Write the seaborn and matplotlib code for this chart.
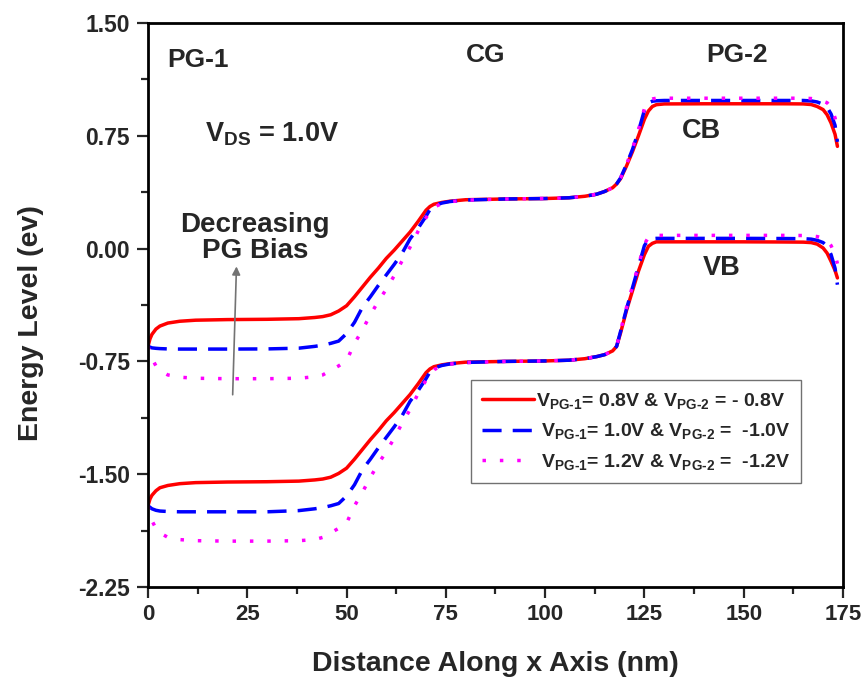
import matplotlib
matplotlib.use("Agg")
import matplotlib.pyplot as plt
from matplotlib.ticker import MultipleLocator
import seaborn as sns
import pandas as pd

# distance along x (nm), shared by all curves
distance = [0, 0.5, 1, 2, 3, 5, 8, 12, 20, 30,
            38, 42, 44, 46, 48, 50, 52, 54, 56, 58,
            60, 62, 64, 66, 68, 70, 71, 72, 74, 76,
            80, 90, 100, 106, 110, 113, 115, 117, 118, 119,
            120.5, 122, 123.5, 125, 126, 127, 128, 130, 140, 150,
            160, 165, 167, 168.5, 170, 171, 172, 173, 173.6]

cb_08 = [-0.65, -0.60, -0.57, -0.535, -0.515, -0.495, -0.483, -0.476, -0.472, -0.470,
         -0.466, -0.458, -0.452, -0.440, -0.415, -0.380, -0.320, -0.255, -0.190, -0.130,
         -0.065, -0.010, 0.050, 0.110, 0.180, 0.255, 0.280, 0.295, 0.307, 0.315,
         0.325, 0.330, 0.333, 0.338, 0.348, 0.362, 0.380, 0.405, 0.430, 0.465,
         0.550, 0.645, 0.750, 0.860, 0.915, 0.945, 0.957, 0.962, 0.963, 0.963,
         0.963, 0.962, 0.958, 0.945, 0.924, 0.890, 0.835, 0.760, 0.680]
cb_10 = [-0.65, -0.655, -0.66, -0.663, -0.665, -0.667, -0.668, -0.668, -0.668, -0.667,
         -0.662, -0.650, -0.642, -0.630, -0.615, -0.565, -0.490, -0.390, -0.320, -0.245,
         -0.175, -0.105, -0.030, 0.065, 0.135, 0.215, 0.260, 0.285, 0.303, 0.313,
         0.323, 0.330, 0.333, 0.338, 0.348, 0.362, 0.380, 0.405, 0.430, 0.470,
         0.560, 0.660, 0.780, 0.920, 0.970, 0.980, 0.983, 0.985, 0.985, 0.985,
         0.985, 0.985, 0.982, 0.975, 0.960, 0.940, 0.895, 0.820, 0.710]
cb_12 = [-0.65, -0.69, -0.73, -0.78, -0.81, -0.84, -0.855, -0.862, -0.865, -0.865,
         -0.862, -0.852, -0.840, -0.810, -0.780, -0.745, -0.630, -0.540, -0.440, -0.350,
         -0.270, -0.180, -0.080, 0.010, 0.115, 0.205, 0.245, 0.275, 0.300, 0.312,
         0.322, 0.330, 0.333, 0.338, 0.348, 0.362, 0.380, 0.405, 0.430, 0.470,
         0.560, 0.665, 0.790, 0.930, 0.985, 0.995, 1.000, 1.000, 1.000, 1.000,
         1.000, 1.000, 0.998, 0.990, 0.980, 0.970, 0.940, 0.870, 0.790]

vb_08 = [-1.71, -1.665, -1.64, -1.61, -1.59, -1.575, -1.563, -1.556, -1.552, -1.550,
         -1.546, -1.538, -1.532, -1.520, -1.495, -1.460, -1.400, -1.335, -1.270, -1.210,
         -1.145, -1.090, -1.030, -0.970, -0.900, -0.825, -0.800, -0.785, -0.773, -0.765,
         -0.755, -0.750, -0.747, -0.742, -0.732, -0.718, -0.705, -0.680, -0.650, -0.560,
         -0.410, -0.280, -0.150, -0.040, 0.015, 0.035, 0.045, 0.045, 0.045, 0.045,
         0.044, 0.043, 0.040, 0.030, 0.004, -0.030, -0.085, -0.145, -0.195]
vb_10 = [-1.71, -1.72, -1.73, -1.74, -1.745, -1.748, -1.75, -1.75, -1.75, -1.75,
         -1.742, -1.730, -1.722, -1.710, -1.695, -1.645, -1.570, -1.470, -1.400, -1.325,
         -1.255, -1.185, -1.110, -1.015, -0.945, -0.865, -0.820, -0.795, -0.777, -0.767,
         -0.757, -0.750, -0.747, -0.742, -0.732, -0.718, -0.705, -0.680, -0.650, -0.550,
         -0.400, -0.260, -0.120, 0.020, 0.060, 0.066, 0.068, 0.068, 0.068, 0.068,
         0.067, 0.066, 0.063, 0.055, 0.040, 0.015, -0.040, -0.130, -0.240]
vb_12 = [-1.71, -1.77, -1.81, -1.86, -1.89, -1.92, -1.935, -1.942, -1.945, -1.945,
         -1.942, -1.935, -1.920, -1.890, -1.860, -1.825, -1.710, -1.620, -1.520, -1.430,
         -1.350, -1.260, -1.160, -1.070, -0.965, -0.875, -0.835, -0.805, -0.780, -0.768,
         -0.758, -0.750, -0.747, -0.742, -0.732, -0.718, -0.705, -0.680, -0.650, -0.545,
         -0.390, -0.250, -0.110, 0.030, 0.075, 0.085, 0.088, 0.088, 0.088, 0.088,
         0.088, 0.087, 0.085, 0.080, 0.070, 0.050, 0.020, -0.040, -0.100]

labels = [r"$\mathrm{V_{PG\text{-}1}}$= 0.8V & $\mathrm{V_{PG\text{-}2}}$ = - 0.8V",
          r" $\mathrm{V_{PG\text{-}1}}$= 1.0V & $\mathrm{V_{PG\text{-}2}}$ =  -1.0V",
          r" $\mathrm{V_{PG\text{-}1}}$= 1.2V & $\mathrm{V_{PG\text{-}2}}$ =  -1.2V"]


def main():
    sns.set_style("ticks")
    plt.rcParams["font.family"] = ["Liberation Sans", "DejaVu Sans"]
    plt.rcParams["font.weight"] = "bold"
    plt.rcParams["mathtext.fontset"] = "custom"
    plt.rcParams["mathtext.rm"] = "Liberation Sans:bold"
    plt.rcParams["mathtext.it"] = "Liberation Sans:bold"
    plt.rcParams["mathtext.bf"] = "Liberation Sans:bold"

    fig = plt.figure(figsize=(8.67, 6.79), dpi=100)
    ax = fig.add_axes([0.1707, 0.1355, 0.8016, 0.8306])

    series = [(cb_08, vb_08, "red", "-"),
              (cb_10, vb_10, "blue", (0, (5.5, 3.2))),
              (cb_12, vb_12, "magenta", (0, (1, 4)))]
    handles = []
    for (cb, vb, color, ls), label in zip(series, labels):
        df = pd.DataFrame({"x": distance, "cb": cb, "vb": vb})
        sns.lineplot(data=df, x="x", y="cb", ax=ax, color=color, lw=2.5,
                     linestyle=ls, estimator=None, sort=False)
        sns.lineplot(data=df, x="x", y="vb", ax=ax, color=color, lw=2.5,
                     linestyle=ls, estimator=None, sort=False)
        handles.append(ax.lines[-1])

    ax.set_xlim(0, 175)
    ax.set_ylim(-2.25, 1.5)
    ax.xaxis.set_major_locator(MultipleLocator(25))
    ax.xaxis.set_minor_locator(MultipleLocator(12.5))
    ax.yaxis.set_major_locator(MultipleLocator(0.75))
    ax.yaxis.set_minor_locator(MultipleLocator(0.375))
    ax.set_yticks([1.5, 0.75, 0, -0.75, -1.5, -2.25])
    ax.set_yticklabels(["1.50", "0.75", "0.00", "-0.75", "-1.50", "-2.25"])
    ax.tick_params(which="major", direction="out", length=8, width=1.6, pad=5)
    ax.tick_params(axis="y", labelsize=16.5)
    ax.tick_params(axis="x", labelsize=16, pad=4)
    ax.tick_params(which="minor", direction="out", length=5, width=1.6)
    ax.tick_params(top=False, right=False, which="both")
    for sp in ax.spines.values():
        sp.set_linewidth(2)
        sp.set_color("black")

    ax.set_xlabel("Distance Along x Axis (nm)", fontsize=20.5, fontweight="bold")
    ax.set_ylabel("Energy Level (ev)", fontsize=20.5, fontweight="bold")
    ax.xaxis.set_label_coords(0.5, -0.114)
    ax.yaxis.set_label_coords(-0.15, 0.468)

    txt = dict(fontweight="bold", ha="center", va="center")
    ax.text(12.7, 1.255, "PG-1", fontsize=19, **txt)
    ax.text(84.9, 1.285, "CG", fontsize=19, **txt)
    ax.text(148.2, 1.29, "PG-2", fontsize=19, **txt)
    ax.text(31.1, 0.76, r"$\mathrm{V_{DS}}$ = 1.0V", fontsize=19.5, **txt)
    ax.text(27.0, 0.07, "Decreasing\nPG Bias", fontsize=20, linespacing=1.0, **txt)
    ax.text(139.4, 0.78, "CB", fontsize=19.5, **txt)
    ax.text(144.5, -0.13, "VB", fontsize=19.5, **txt)
    ax.annotate("", xy=(22.3, -0.10), xytext=(21.3, -0.99),
                arrowprops=dict(arrowstyle="-|>", color="0.45", lw=1.2, mutation_scale=12))

    leg = ax.legend(handles, labels, loc="upper left", bbox_to_anchor=(0.465, 0.367),
                    borderaxespad=0, fontsize=14, frameon=True, fancybox=False,
                    handlelength=2.7, handletextpad=0.1, labelspacing=0.55,
                    borderpad=0.55)
    leg.get_frame().set_edgecolor("0.3")
    leg.get_frame().set_linewidth(1.0)

    fig.savefig("out.png", dpi=100)


if __name__ == "__main__":
    main()
